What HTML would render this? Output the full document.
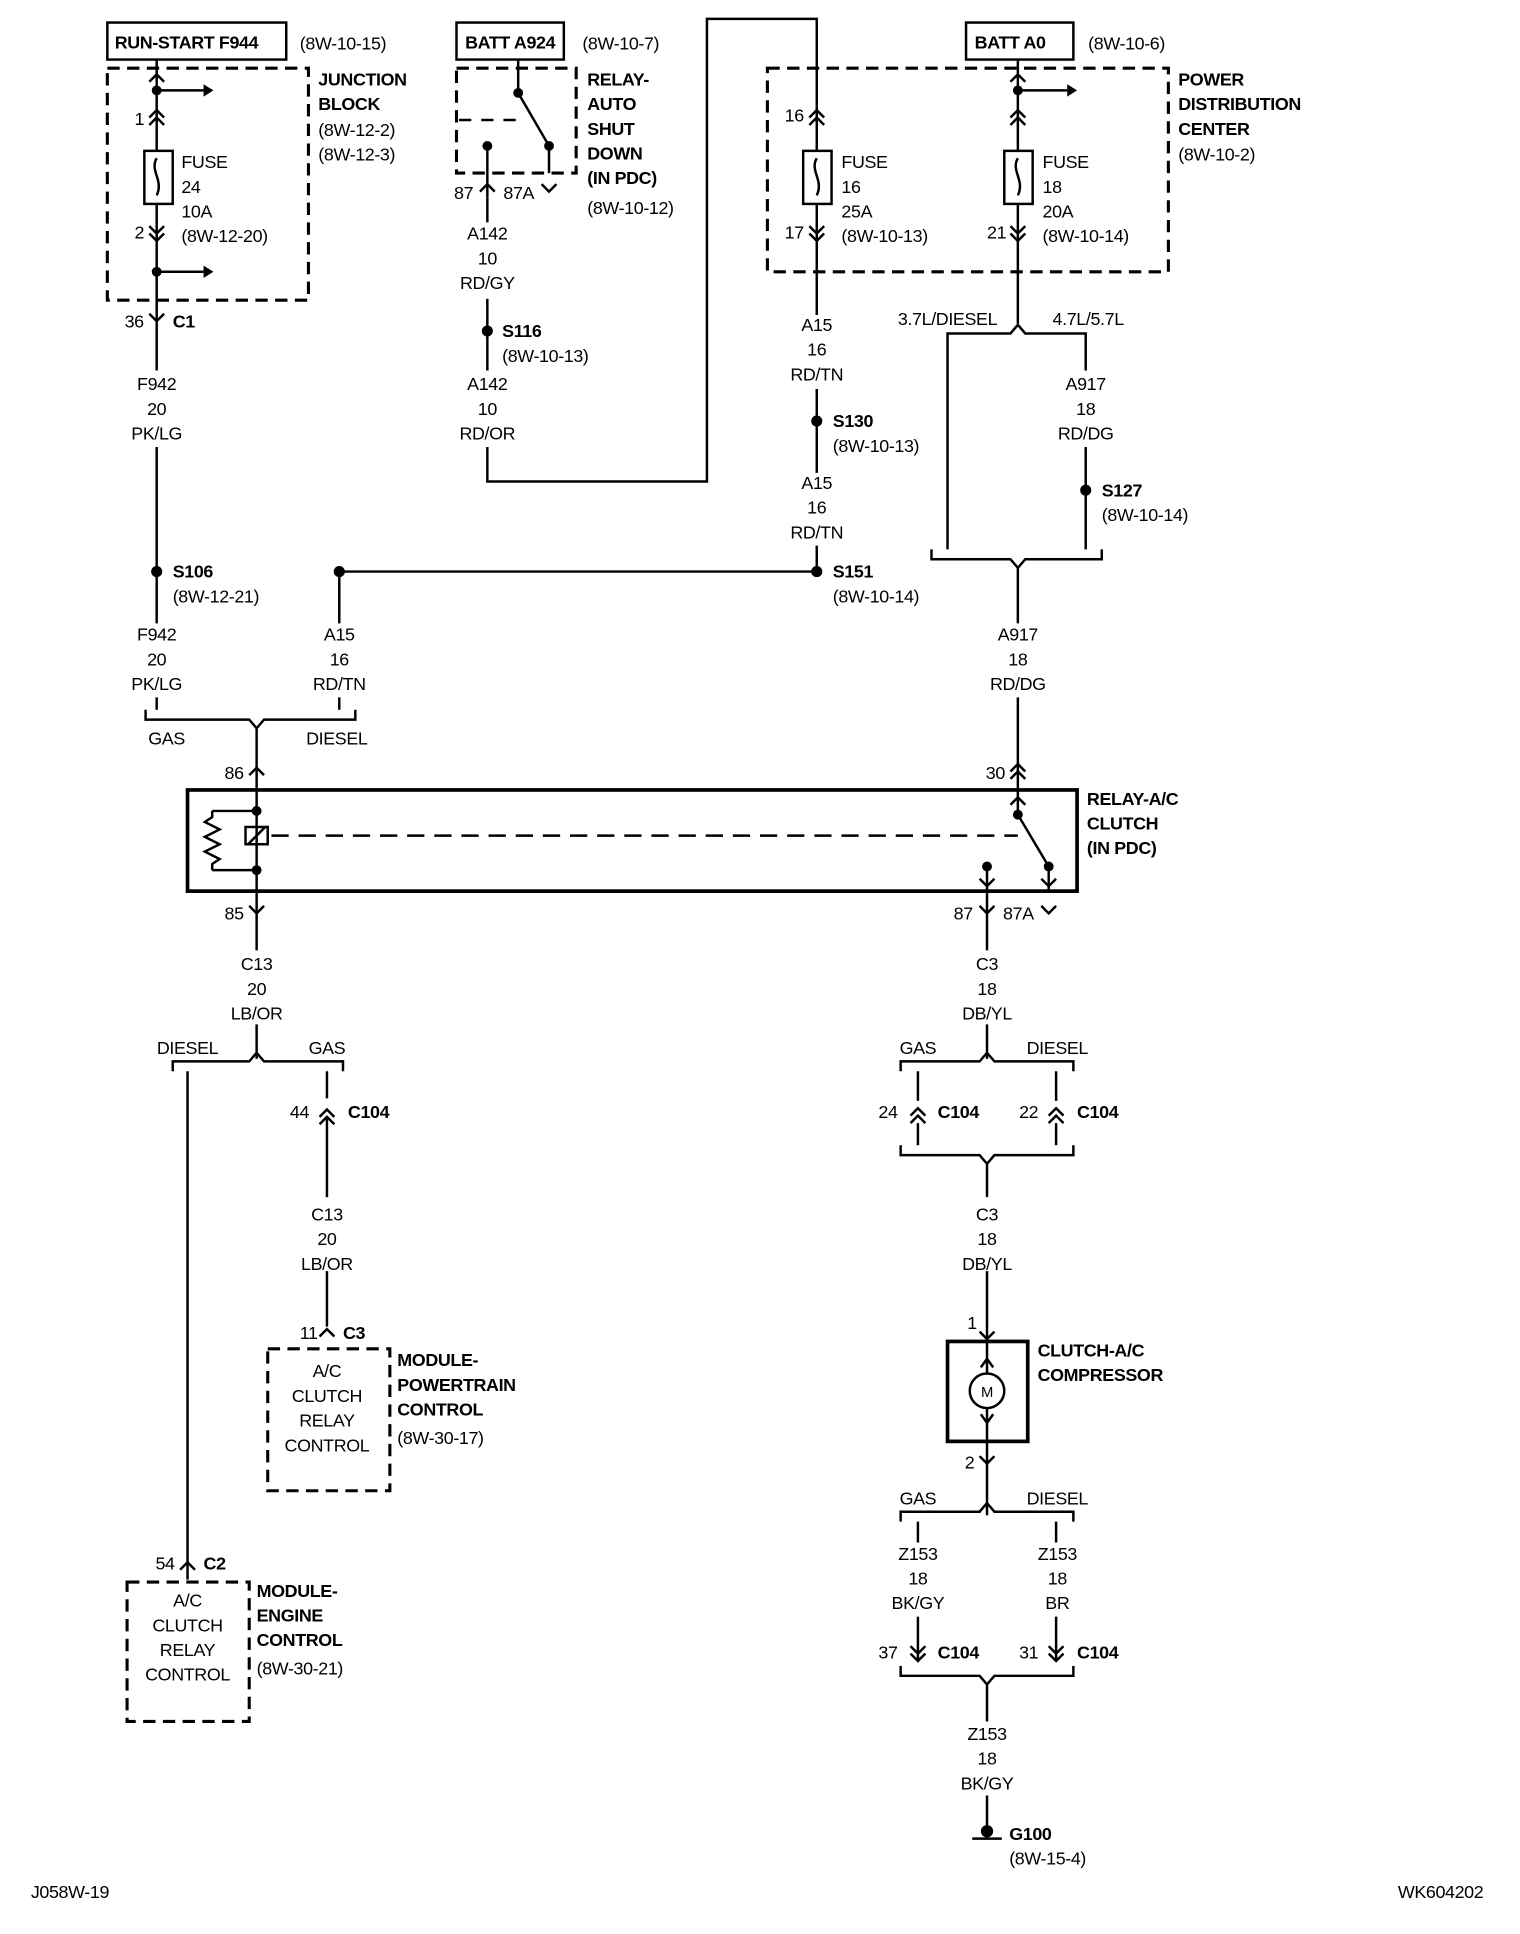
<!DOCTYPE html>
<html><head><meta charset="utf-8"><style>
html,body{margin:0;padding:0;background:#fff}
svg{display:block}
text{font-family:"Liberation Sans Narrow","Liberation Sans",Arial,sans-serif;font-size:14.5px;letter-spacing:-0.3px;fill:#000}
.b{font-weight:bold}
.m{text-anchor:middle}
</style></head><body>
<svg width="1520" height="1934" viewBox="0 0 1232 1567" xmlns="http://www.w3.org/2000/svg">
<g fill="none" stroke="#000" stroke-width="2">
<rect x="87" y="18" width="145" height="30"/>
<rect x="370" y="18" width="87" height="30"/>
<rect x="783" y="18" width="87" height="30"/>
<g stroke-dasharray="10,6" stroke-width="2.5">
<rect x="87" y="55" width="163" height="188"/>
<rect x="370" y="55" width="97" height="85"/>
<rect x="622" y="55" width="325" height="165"/>
<rect x="217" y="1093" width="99" height="115"/>
<rect x="103" y="1282" width="99" height="113"/>
<line x1="372" y1="97" x2="420" y2="97" stroke-width="2" stroke-dasharray="10,8"/>
<line x1="220" y1="677" x2="825" y2="677" stroke-width="2" stroke-dasharray="14,8"/>
</g>
<path d="M127 48V122M127 165V260M127 73H165M127 220H165"/>
<rect x="117" y="122" width="23" height="43"/>
<path d="M127 128c-6 10 6 18 0 30"/>
<path d="M121 95l6-6 6 6M121 101l6-6 6 6M121 183l6 6 6-6M121 189l6 6 6-6"/>
<path d="M121 66l6-6 6 6"/>
<path d="M127 260V300M127 362V505M127 565V575"/>
<path d="M121 254l6 6 6-6"/>
<path d="M420 48V75L445 118M395 118V160M445 118V140"/>
<path d="M389 155l6-6 6 6M439 149l6 6 6-6"/>
<path d="M395 160V180M395 242V300M395 362V390H573V15H662V85"/>
<path d="M662 85V122M662 165V255"/>
<rect x="651" y="122" width="23" height="43"/>
<path d="M662 128c-6 10 6 18 0 30"/>
<path d="M656 95l6-6 6 6M656 101l6-6 6 6M656 183l6 6 6-6M656 189l6 6 6-6"/>
<path d="M825 48V122M825 165V262M825 73H865"/>
<rect x="814" y="122" width="23" height="43"/>
<path d="M825 128c-6 10 6 18 0 30"/>
<path d="M819 66l6-6 6 6M819 95l6-6 6 6M819 101l6-6 6 6M819 183l6 6 6-6M819 189l6 6 6-6"/>
<path d="M662 315V383M662 442V463"/>
<path d="M275 463H662M275 463V505"/>
<path d="M768 278V270H819L825 263L831 270H880V278M768 278V445M880 278V300M880 362V445"/>
<path d="M755 445V453H819L825 460L831 453H893V445M825 460V505M825 565V640"/>
<path d="M819 625l6-6 6 6M819 631l6-6 6 6"/>
<path d="M118 575V583H202L208 590L214 583H288V575M275 565V575M208 590V640"/>
<path d="M202 628l6-6 6 6"/>
<rect x="152" y="640" width="721" height="82" stroke-width="3"/>
<path d="M208 640V722M172 657H208M172 705H208M172 657V662l-6 4 12 6-12 6 12 6-12 6 12 6-6 4V705"/>
<rect x="199" y="670" width="18" height="14"/>
<path d="M201 684l14-14"/>
<path d="M825 640V660L850 702M800 702V722M850 702V722"/>
<path d="M794 712l6 6 6-6M844 712l6 6 6-6M819 652l6-6 6 6"/>
<path d="M208 722V770M202 734l6 6 6-6M800 722V770M794 734l6 6 6-6M844 734l6 6 6-6"/>
<path d="M208 830V858M140 868V860H202L208 853L214 860H278V868M152 868V1280M265 868V890M265 905V970M265 1030V1075"/>
<path d="M259 905l6-6 6 6M259 911l6-6 6 6M259 1083l6-6 6 6M146 1272l6-6 6 6"/>
<path d="M800 830V858M730 868V860H794L800 853L806 860H870V868M744 868V892M856 868V892"/>
<path d="M738 904l6-6 6 6M738 910l6-6 6 6M850 904l6-6 6 6M850 910l6-6 6 6"/>
<path d="M744 910V928M856 910V928M730 928V936H794L800 943L806 936H870V928M800 943V970M800 1030V1087"/>
<path d="M794 1079l6 6 6-6"/>
<rect x="768" y="1087" width="65" height="81" stroke-width="3"/>
<circle cx="800" cy="1127" r="14"/>
<path d="M800 1087V1113M800 1141V1168M795 1108l5-7 5 7M795 1146l5 7 5-7"/>
<path d="M800 1168V1228M794 1180l6 6 6-6M730 1233V1225H794L800 1218L806 1225H870V1233M744 1233V1250M856 1233V1250"/>
<path d="M744 1310V1345M856 1310V1345M738 1334l6 6 6-6M738 1340l6 6 6-6M850 1334l6 6 6-6M850 1340l6 6 6-6"/>
<path d="M730 1350V1358H794L800 1365L806 1358H870V1350M800 1365V1395M800 1455V1482M788 1490H812"/>
</g>
<g fill="#000">
<circle cx="127" cy="463" r="4.5"/><circle cx="275" cy="463" r="4.5"/><circle cx="662" cy="463" r="4.5"/>
<circle cx="395" cy="268" r="4.5"/><circle cx="662" cy="341" r="4.5"/><circle cx="880" cy="397" r="4.5"/>
<circle cx="395" cy="118" r="4"/><circle cx="445" cy="118" r="4"/><circle cx="420" cy="75" r="4"/>
<circle cx="127" cy="73" r="4"/><circle cx="127" cy="220" r="4"/><circle cx="825" cy="73" r="4"/>
<circle cx="208" cy="657" r="4"/><circle cx="208" cy="705" r="4"/><circle cx="825" cy="660" r="4"/>
<circle cx="800" cy="702" r="4"/><circle cx="850" cy="702" r="4"/>
<circle cx="800" cy="1484" r="5"/>
<path d="M165 68l8 5-8 5zM165 215l8 5-8 5zM865 68l8 5-8 5z"/>
</g>
<text class="b" x="93" y="39">RUN-START F944</text>
<text x="243" y="40">(8W-10-15)</text>
<text class="b" x="377" y="39">BATT A924</text>
<text x="472" y="40">(8W-10-7)</text>
<text class="b" x="790" y="39">BATT A0</text>
<text x="882" y="40">(8W-10-6)</text>
<text class="b" x="258" y="69">JUNCTION</text><text class="b" x="258" y="89">BLOCK</text>
<text x="258" y="110">(8W-12-2)</text><text x="258" y="130">(8W-12-3)</text>
<text x="147" y="136">FUSE</text><text x="147" y="156">24</text><text x="147" y="176">10A</text><text x="147" y="196">(8W-12-20)</text>
<text x="109" y="101">1</text><text x="109" y="193">2</text>
<text x="101" y="265">36</text><text class="b" x="140" y="265">C1</text>
<text class="m" x="127" y="316">F942</text><text class="m" x="127" y="336">20</text><text class="m" x="127" y="356">PK/LG</text>
<text class="b" x="140" y="468">S106</text><text x="140" y="488">(8W-12-21)</text>
<text class="m" x="127" y="519">F942</text><text class="m" x="127" y="539">20</text><text class="m" x="127" y="559">PK/LG</text>
<text class="m" x="275" y="519">A15</text><text class="m" x="275" y="539">16</text><text class="m" x="275" y="559">RD/TN</text>
<text class="m" x="135" y="603">GAS</text><text class="m" x="273" y="603">DIESEL</text>
<text x="182" y="631">86</text>
<text class="b" x="476" y="69">RELAY-</text><text class="b" x="476" y="89">AUTO</text><text class="b" x="476" y="109">SHUT</text><text class="b" x="476" y="129">DOWN</text><text class="b" x="476" y="149">(IN PDC)</text>
<text x="476" y="173">(8W-10-12)</text>
<text x="368" y="161">87</text><text x="408" y="161">87A</text>
<text class="m" x="395" y="194">A142</text><text class="m" x="395" y="214">10</text><text class="m" x="395" y="234">RD/GY</text>
<text class="b" x="407" y="273">S116</text><text x="407" y="293">(8W-10-13)</text>
<text class="m" x="395" y="316">A142</text><text class="m" x="395" y="336">10</text><text class="m" x="395" y="356">RD/OR</text>
<text class="b" x="955" y="69">POWER</text><text class="b" x="955" y="89">DISTRIBUTION</text><text class="b" x="955" y="109">CENTER</text><text x="955" y="130">(8W-10-2)</text>
<text x="636" y="98">16</text><text x="636" y="193">17</text><text x="800" y="193">21</text>
<text x="682" y="136">FUSE</text><text x="682" y="156">16</text><text x="682" y="176">25A</text><text x="682" y="196">(8W-10-13)</text>
<text x="845" y="136">FUSE</text><text x="845" y="156">18</text><text x="845" y="176">20A</text><text x="845" y="196">(8W-10-14)</text>
<text class="m" x="662" y="268">A15</text><text class="m" x="662" y="288">16</text><text class="m" x="662" y="308">RD/TN</text>
<text class="b" x="675" y="346">S130</text><text x="675" y="366">(8W-10-13)</text>
<text class="m" x="662" y="396">A15</text><text class="m" x="662" y="416">16</text><text class="m" x="662" y="436">RD/TN</text>
<text class="b" x="675" y="468">S151</text><text x="675" y="488">(8W-10-14)</text>
<text class="m" x="768" y="263">3.7L/DIESEL</text><text class="m" x="882" y="263">4.7L/5.7L</text>
<text class="m" x="880" y="316">A917</text><text class="m" x="880" y="336">18</text><text class="m" x="880" y="356">RD/DG</text>
<text class="b" x="893" y="402">S127</text><text x="893" y="422">(8W-10-14)</text>
<text class="m" x="825" y="519">A917</text><text class="m" x="825" y="539">18</text><text class="m" x="825" y="559">RD/DG</text>
<text x="799" y="631">30</text>
<text class="b" x="881" y="652">RELAY-A/C</text><text class="b" x="881" y="672">CLUTCH</text><text class="b" x="881" y="692">(IN PDC)</text>
<text x="182" y="745">85</text><text x="773" y="745">87</text><text x="813" y="745">87A</text>
<text class="m" x="208" y="786">C13</text><text class="m" x="208" y="806">20</text><text class="m" x="208" y="826">LB/OR</text>
<text class="m" x="152" y="854">DIESEL</text><text class="m" x="265" y="854">GAS</text>
<text x="235" y="906">44</text><text class="b" x="282" y="906">C104</text>
<text class="m" x="265" y="989">C13</text><text class="m" x="265" y="1009">20</text><text class="m" x="265" y="1029">LB/OR</text>
<text x="243" y="1085">11</text><text class="b" x="278" y="1085">C3</text>
<text class="m" x="265" y="1116">A/C</text><text class="m" x="265" y="1136">CLUTCH</text><text class="m" x="265" y="1156">RELAY</text><text class="m" x="265" y="1176">CONTROL</text>
<text class="b" x="322" y="1107">MODULE-</text><text class="b" x="322" y="1127">POWERTRAIN</text><text class="b" x="322" y="1147">CONTROL</text><text x="322" y="1170">(8W-30-17)</text>
<text x="126" y="1272">54</text><text class="b" x="165" y="1272">C2</text>
<text class="m" x="152" y="1302">A/C</text><text class="m" x="152" y="1322">CLUTCH</text><text class="m" x="152" y="1342">RELAY</text><text class="m" x="152" y="1362">CONTROL</text>
<text class="b" x="208" y="1294">MODULE-</text><text class="b" x="208" y="1314">ENGINE</text><text class="b" x="208" y="1334">CONTROL</text><text x="208" y="1357">(8W-30-21)</text>
<text class="m" x="800" y="786">C3</text><text class="m" x="800" y="806">18</text><text class="m" x="800" y="826">DB/YL</text>
<text class="m" x="744" y="854">GAS</text><text class="m" x="857" y="854">DIESEL</text>
<text x="712" y="906">24</text><text class="b" x="760" y="906">C104</text>
<text x="826" y="906">22</text><text class="b" x="873" y="906">C104</text>
<text class="m" x="800" y="989">C3</text><text class="m" x="800" y="1009">18</text><text class="m" x="800" y="1029">DB/YL</text>
<text x="784" y="1077">1</text><text x="782" y="1190">2</text>
<text class="b" x="841" y="1099">CLUTCH-A/C</text><text class="b" x="841" y="1119">COMPRESSOR</text>
<text class="m" x="800" y="1132" style="font-size:12px">M</text>
<text class="m" x="744" y="1219">GAS</text><text class="m" x="857" y="1219">DIESEL</text>
<text class="m" x="744" y="1264">Z153</text><text class="m" x="744" y="1284">18</text><text class="m" x="744" y="1304">BK/GY</text>
<text class="m" x="857" y="1264">Z153</text><text class="m" x="857" y="1284">18</text><text class="m" x="857" y="1304">BR</text>
<text x="712" y="1344">37</text><text class="b" x="760" y="1344">C104</text>
<text x="826" y="1344">31</text><text class="b" x="873" y="1344">C104</text>
<text class="m" x="800" y="1410">Z153</text><text class="m" x="800" y="1430">18</text><text class="m" x="800" y="1450">BK/GY</text>
<text class="b" x="818" y="1491">G100</text><text x="818" y="1511">(8W-15-4)</text>
<text x="25" y="1538">J058W-19</text><text x="1133" y="1538">WK604202</text>
</svg>
</body></html>
